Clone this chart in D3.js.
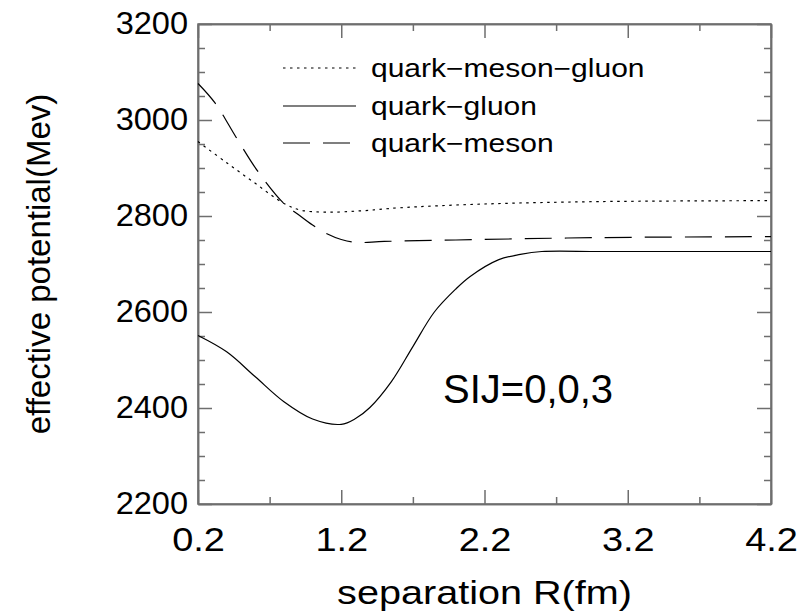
<!DOCTYPE html>
<html><head><meta charset="utf-8">
<script src="https://cdn.jsdelivr.net/npm/d3@7"></script>
<style>
html,body{margin:0;padding:0;background:#fff;}
text{font-family:"Liberation Sans",Arial,Helvetica,sans-serif;fill:#000;}
</style></head>
<body><svg id="c" width="804" height="616"></svg>
<script>
// ---- data ----
const xTicks = [0.2, 1.2, 2.2, 3.2, 4.2];
const yTicks = [2200, 2400, 2600, 2800, 3000, 3200];
const seriesNames = ["quark\u2212meson\u2212gluon", "quark\u2212gluon", "quark\u2212meson"];

const qmgR = [0.2, 0.4, 0.6, 0.8, 0.92, 1.1, 1.35, 1.6, 2.2, 3.0, 4.2];
const qmgV = [2955, 2911, 2868, 2826, 2812, 2808, 2811, 2817, 2825, 2830, 2832];

const qgR = [0.2, 0.4, 0.6, 0.8, 1.0, 1.2, 1.3, 1.4, 1.55, 1.7, 1.85, 2.0, 2.1, 2.3, 2.45, 2.6, 3.0, 3.6, 4.2];
const qgV = [2551, 2517, 2465, 2413, 2377, 2366, 2378, 2401, 2455, 2528, 2600, 2648, 2674, 2709, 2720, 2726, 2726, 2726, 2726];

const qmR = [0.2, 0.32, 0.47, 0.62, 0.8, 0.9, 1.0, 1.1, 1.2, 1.3, 1.5, 2.0, 3.0, 4.2];
const qmV = [3076, 3035, 2962, 2892, 2826, 2803, 2781, 2763, 2751, 2745, 2747, 2750, 2755, 2757];

const annotation = "SIJ=0,0,3";
const xTitle = "separation R(fm)";
const yTitle = "effective potential(Mev)";

// ---- layout ----
const svg = d3.select("#c");
const L = 198, R = 771, T = 24, B = 504;
const x = d3.scaleLinear().domain([0.2, 4.2]).range([L, R]);
const y = d3.scaleLinear().domain([2200, 3200]).range([B, T]);
const axisColor = "#6e6e6e";
const SX = 1.15; // horizontal text stretch seen in reference

const minorX = d3.range(0.2, 4.21, 0.5).filter(v => xTicks.every(t => Math.abs(t - v) > 1e-6));
const minorY = d3.range(2200, 3201, 50).filter(v => yTicks.indexOf(v) < 0);

function styleAxis(g) {
  g.selectAll("path.domain").attr("stroke", axisColor).attr("stroke-width", 1.5);
  g.selectAll(".tick line").attr("stroke", axisColor).attr("stroke-width", 1.5);
}

// frame
svg.append("rect").attr("x", L).attr("y", T).attr("width", R - L).attr("height", B - T)
  .attr("fill", "none").attr("stroke", axisColor).attr("stroke-width", 1.5);

// bottom axis with labels
const gB = svg.append("g").attr("transform", `translate(0,${B})`)
  .call(d3.axisBottom(x).tickValues(xTicks).tickSizeInner(-14).tickSizeOuter(0).tickPadding(23.5)
    .tickFormat(d3.format(".1f")));
styleAxis(gB);
gB.selectAll(".tick text").attr("font-size", 33).attr("fill", "#000").each(function() {
  const t = d3.select(this);
  const yy = +t.attr("y");
  t.attr("transform", `translate(0,${yy}) scale(${SX},1) translate(0,${-yy})`);
});
svg.append("g").attr("transform", `translate(0,${B})`)
  .call(d3.axisBottom(x).tickValues(minorX).tickSizeInner(-7).tickSizeOuter(0).tickFormat(""))
  .call(styleAxis);
// top axis
svg.append("g").attr("transform", `translate(0,${T})`)
  .call(d3.axisTop(x).tickValues(xTicks).tickSizeInner(-14).tickSizeOuter(0).tickFormat(""))
  .call(styleAxis);
svg.append("g").attr("transform", `translate(0,${T})`)
  .call(d3.axisTop(x).tickValues(minorX).tickSizeInner(-7).tickSizeOuter(0).tickFormat(""))
  .call(styleAxis);
// left axis with labels
const gL = svg.append("g").attr("transform", `translate(${L},0)`)
  .call(d3.axisLeft(y).tickValues(yTicks).tickSizeInner(-14).tickSizeOuter(0).tickPadding(10)
    .tickFormat(d3.format("d")));
styleAxis(gL);
gL.selectAll(".tick text").attr("font-size", 31).attr("fill", "#000").each(function() {
  const t = d3.select(this);
  const xx = +t.attr("x");
  t.attr("transform", `translate(${xx},0) scale(1.05,1) translate(${-xx},0)`);
});
svg.append("g").attr("transform", `translate(${L},0)`)
  .call(d3.axisLeft(y).tickValues(minorY).tickSizeInner(-7).tickSizeOuter(0).tickFormat(""))
  .call(styleAxis);
// right axis
svg.append("g").attr("transform", `translate(${R},0)`)
  .call(d3.axisRight(y).tickValues(yTicks).tickSizeInner(-14).tickSizeOuter(0).tickFormat(""))
  .call(styleAxis);
svg.append("g").attr("transform", `translate(${R},0)`)
  .call(d3.axisRight(y).tickValues(minorY).tickSizeInner(-7).tickSizeOuter(0).tickFormat(""))
  .call(styleAxis);

// curves
const line = d3.line().x(d => x(d[0])).y(d => y(d[1])).curve(d3.curveCatmullRom.alpha(0.5));
const series = [
  { name: seriesNames[0], pts: d3.zip(qmgR, qmgV), dash: "2.5,4.5" },
  { name: seriesNames[1], pts: d3.zip(qgR, qgV), dash: null },
  { name: seriesNames[2], pts: d3.zip(qmR, qmV), dash: "27,13" }
];
series.forEach(s => {
  svg.append("path").datum(s.pts).attr("d", line).attr("fill", "none")
    .attr("stroke", "#000").attr("stroke-width", 1.2)
    .attr("stroke-dasharray", s.dash);
});

// legend
const legY = [68, 106, 143];
series.forEach((s, i) => {
  svg.append("line").attr("x1", 283).attr("x2", 356).attr("y1", legY[i]).attr("y2", legY[i])
    .attr("stroke", i === 1 ? "#555" : "#000").attr("stroke-width", i === 1 ? 1.5 : 1.2)
    .attr("stroke-dasharray", s.dash);
  svg.append("text").attr("x", 0).attr("y", 0)
    .attr("transform", `translate(371,${legY[i] + 9}) scale(1.2,1)`)
    .attr("font-size", 25).text(s.name);
});

// annotation
svg.append("text").attr("transform", `translate(443,403)`)
  .attr("font-size", 40).text(annotation);

// axis titles
svg.append("text").attr("transform", `translate(${(L + R) / 2},604) scale(1.2,1)`)
  .attr("text-anchor", "middle").attr("font-size", 33).text(xTitle);
svg.append("text").attr("transform", `translate(50,${(T + B) / 2}) rotate(-90)`)
  .attr("text-anchor", "middle").attr("font-size", 33).text(yTitle);
</script></body></html>
